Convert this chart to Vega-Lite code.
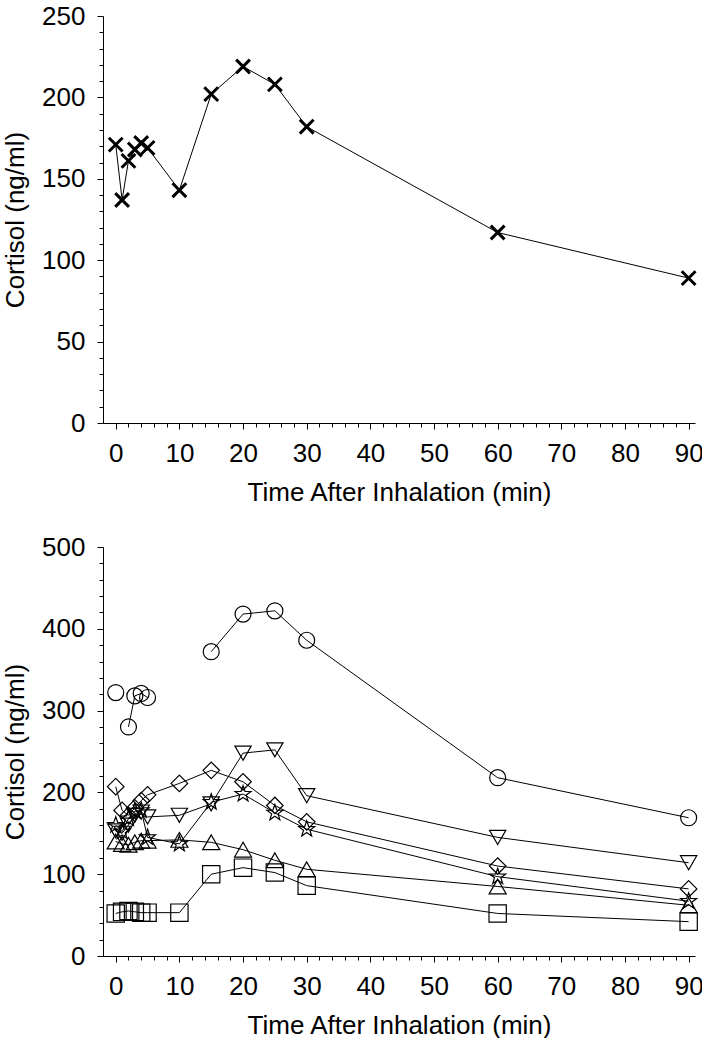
{
  "$schema": "https://vega.github.io/schema/vega-lite/v6.json",
  "padding": {"left": 2, "top": 3, "right": 0, "bottom": 0},
  "spacing": 29,
  "config": {
    "view": {"stroke": null},
    "font": "Liberation Sans",
    "axis": {
      "grid": false,
      "domainColor": "#000000",
      "domainWidth": 1,
      "tickColor": "#000000",
      "tickWidth": 1,
      "labelColor": "#000000",
      "titleColor": "#000000",
      "labelFontSize": 26,
      "titleFontSize": 26,
      "titleFontWeight": "normal",
      "labelOverlap": false,
      "labelFlush": false
    }
  },
  "datasets": {
    "top": [
      {"t": 0, "cortisol": 171},
      {"t": 1, "cortisol": 137},
      {"t": 2, "cortisol": 161},
      {"t": 3, "cortisol": 168},
      {"t": 4, "cortisol": 172},
      {"t": 5, "cortisol": 169},
      {"t": 10, "cortisol": 143},
      {"t": 15, "cortisol": 202},
      {"t": 20, "cortisol": 219},
      {"t": 25, "cortisol": 208},
      {"t": 30, "cortisol": 182},
      {"t": 60, "cortisol": 117},
      {"t": 90, "cortisol": 89}
    ],
    "bottom": [
      {"series": "circle", "segment": "circle-a", "t": 0, "cortisol": 322},
      {"series": "circle", "segment": "circle-b", "t": 2, "cortisol": 280},
      {"series": "circle", "segment": "circle-b", "t": 3, "cortisol": 318},
      {"series": "circle", "segment": "circle-b", "t": 4, "cortisol": 321},
      {"series": "circle", "segment": "circle-b", "t": 5, "cortisol": 316},
      {"series": "circle", "segment": "circle-c", "t": 15, "cortisol": 372},
      {"series": "circle", "segment": "circle-c", "t": 20, "cortisol": 418},
      {"series": "circle", "segment": "circle-c", "t": 25, "cortisol": 422},
      {"series": "circle", "segment": "circle-c", "t": 30, "cortisol": 386},
      {"series": "circle", "segment": "circle-c", "t": 60, "cortisol": 218},
      {"series": "circle", "segment": "circle-c", "t": 90, "cortisol": 169},

      {"series": "tdown", "segment": "tdown", "t": 0, "cortisol": 153},
      {"series": "tdown", "segment": "tdown", "t": 1, "cortisol": 150},
      {"series": "tdown", "segment": "tdown", "t": 2, "cortisol": 160},
      {"series": "tdown", "segment": "tdown", "t": 3, "cortisol": 172},
      {"series": "tdown", "segment": "tdown", "t": 4, "cortisol": 176},
      {"series": "tdown", "segment": "tdown", "t": 5, "cortisol": 170},
      {"series": "tdown", "segment": "tdown", "t": 10, "cortisol": 172},
      {"series": "tdown", "segment": "tdown", "t": 15, "cortisol": 186},
      {"series": "tdown", "segment": "tdown", "t": 20, "cortisol": 248},
      {"series": "tdown", "segment": "tdown", "t": 25, "cortisol": 252},
      {"series": "tdown", "segment": "tdown", "t": 30, "cortisol": 196},
      {"series": "tdown", "segment": "tdown", "t": 60, "cortisol": 145},
      {"series": "tdown", "segment": "tdown", "t": 90, "cortisol": 114},

      {"series": "diamond", "segment": "diamond", "t": 0, "cortisol": 207},
      {"series": "diamond", "segment": "diamond", "t": 1, "cortisol": 178},
      {"series": "diamond", "segment": "diamond", "t": 2, "cortisol": 172},
      {"series": "diamond", "segment": "diamond", "t": 3, "cortisol": 181},
      {"series": "diamond", "segment": "diamond", "t": 4, "cortisol": 190},
      {"series": "diamond", "segment": "diamond", "t": 5, "cortisol": 197},
      {"series": "diamond", "segment": "diamond", "t": 10, "cortisol": 211},
      {"series": "diamond", "segment": "diamond", "t": 15, "cortisol": 227},
      {"series": "diamond", "segment": "diamond", "t": 20, "cortisol": 213},
      {"series": "diamond", "segment": "diamond", "t": 25, "cortisol": 184},
      {"series": "diamond", "segment": "diamond", "t": 30, "cortisol": 164},
      {"series": "diamond", "segment": "diamond", "t": 60, "cortisol": 110},
      {"series": "diamond", "segment": "diamond", "t": 90, "cortisol": 82},

      {"series": "star", "segment": "star", "t": 0, "cortisol": 160},
      {"series": "star", "segment": "star", "t": 1, "cortisol": 152},
      {"series": "star", "segment": "star", "t": 2, "cortisol": 168},
      {"series": "star", "segment": "star", "t": 3, "cortisol": 177},
      {"series": "star", "segment": "star", "t": 4, "cortisol": 178},
      {"series": "star", "segment": "star", "t": 5, "cortisol": 145},
      {"series": "star", "segment": "star", "t": 10, "cortisol": 137},
      {"series": "star", "segment": "star", "t": 15, "cortisol": 188},
      {"series": "star", "segment": "star", "t": 20, "cortisol": 198},
      {"series": "star", "segment": "star", "t": 25, "cortisol": 175},
      {"series": "star", "segment": "star", "t": 30, "cortisol": 155},
      {"series": "star", "segment": "star", "t": 60, "cortisol": 97},
      {"series": "star", "segment": "star", "t": 90, "cortisol": 67},

      {"series": "tup", "segment": "tup", "t": 0, "cortisol": 140},
      {"series": "tup", "segment": "tup", "t": 1, "cortisol": 137},
      {"series": "tup", "segment": "tup", "t": 2, "cortisol": 136},
      {"series": "tup", "segment": "tup", "t": 3, "cortisol": 139},
      {"series": "tup", "segment": "tup", "t": 4, "cortisol": 141},
      {"series": "tup", "segment": "tup", "t": 5, "cortisol": 141},
      {"series": "tup", "segment": "tup", "t": 10, "cortisol": 142},
      {"series": "tup", "segment": "tup", "t": 15, "cortisol": 139},
      {"series": "tup", "segment": "tup", "t": 20, "cortisol": 130},
      {"series": "tup", "segment": "tup", "t": 25, "cortisol": 117},
      {"series": "tup", "segment": "tup", "t": 30, "cortisol": 106},
      {"series": "tup", "segment": "tup", "t": 60, "cortisol": 85},
      {"series": "tup", "segment": "tup", "t": 90, "cortisol": 62},

      {"series": "square", "segment": "square", "t": 0, "cortisol": 52},
      {"series": "square", "segment": "square", "t": 1, "cortisol": 54},
      {"series": "square", "segment": "square", "t": 2, "cortisol": 55},
      {"series": "square", "segment": "square", "t": 3, "cortisol": 54},
      {"series": "square", "segment": "square", "t": 4, "cortisol": 53},
      {"series": "square", "segment": "square", "t": 5, "cortisol": 53},
      {"series": "square", "segment": "square", "t": 10, "cortisol": 53},
      {"series": "square", "segment": "square", "t": 15, "cortisol": 100},
      {"series": "square", "segment": "square", "t": 20, "cortisol": 108},
      {"series": "square", "segment": "square", "t": 25, "cortisol": 102},
      {"series": "square", "segment": "square", "t": 30, "cortisol": 86},
      {"series": "square", "segment": "square", "t": 60, "cortisol": 52},
      {"series": "square", "segment": "square", "t": 90, "cortisol": 42}
    ]
  },
  "vconcat": [
    {
      "width": 592,
      "height": 407,
      "data": {"name": "top"},
      "encoding": {
        "x": {
          "field": "t", "type": "quantitative",
          "scale": {"domain": [-2, 91], "nice": false, "zero": false},
          "axis": {
            "title": "Time After Inhalation (min)",
            "values": [0,2,4,6,8,10,12,14,16,18,20,22,24,26,28,30,32,34,36,38,40,42,44,46,48,50,52,54,56,58,60,62,64,66,68,70,72,74,76,78,80,82,84,86,88,90],
            "labelExpr": "datum.value % 10 === 0 ? datum.label : ''",
            "tickSize": {"condition": {"test": "datum.value % 10 === 0", "value": 6}, "value": 4},
            "labelPadding": 11,
            "titlePadding": 13
          }
        },
        "y": {
          "field": "cortisol", "type": "quantitative",
          "scale": {"domain": [0, 250], "nice": false},
          "axis": {
            "title": "Cortisol (ng/ml)",
            "values": [0,10,20,30,40,50,60,70,80,90,100,110,120,130,140,150,160,170,180,190,200,210,220,230,240,250],
            "labelExpr": "datum.value % 50 === 0 ? datum.label : ''",
            "tickSize": {"condition": {"test": "datum.value % 50 === 0", "value": 6}, "value": 4},
            "labelPadding": 12,
            "titlePadding": 13
          }
        }
      },
      "layer": [
        {"mark": {"type": "line", "color": "#000000", "strokeWidth": 1}},
        {"mark": {"type": "point", "shape": "M-1,-1L1,1M-1,1L1,-1", "size": 190, "filled": false, "stroke": "#000000", "strokeWidth": 3, "opacity": 1}}
      ]
    },
    {
      "width": 592,
      "height": 409,
      "data": {"name": "bottom"},
      "encoding": {
        "x": {
          "field": "t", "type": "quantitative",
          "scale": {"domain": [-2, 91], "nice": false, "zero": false},
          "axis": {
            "title": "Time After Inhalation (min)",
            "values": [0,2,4,6,8,10,12,14,16,18,20,22,24,26,28,30,32,34,36,38,40,42,44,46,48,50,52,54,56,58,60,62,64,66,68,70,72,74,76,78,80,82,84,86,88,90],
            "labelExpr": "datum.value % 10 === 0 ? datum.label : ''",
            "tickSize": {"condition": {"test": "datum.value % 10 === 0", "value": 6}, "value": 4},
            "labelPadding": 11,
            "titlePadding": 13
          }
        },
        "y": {
          "field": "cortisol", "type": "quantitative",
          "scale": {"domain": [0, 500], "nice": false},
          "axis": {
            "title": "Cortisol (ng/ml)",
            "values": [0,20,40,60,80,100,120,140,160,180,200,220,240,260,280,300,320,340,360,380,400,420,440,460,480,500],
            "labelExpr": "datum.value % 100 === 0 ? datum.label : ''",
            "tickSize": {"condition": {"test": "datum.value % 100 === 0", "value": 6}, "value": 4},
            "labelPadding": 12,
            "titlePadding": 13
          }
        }
      },
      "layer": [
        {
          "mark": {"type": "line", "color": "#000000", "strokeWidth": 1},
          "encoding": {"detail": {"field": "segment", "type": "nominal"}}
        },
        {
          "mark": {"type": "point", "filled": false, "stroke": "#000000", "strokeWidth": 1.2, "opacity": 1},
          "encoding": {
            "shape": {
              "field": "series", "type": "nominal", "legend": null,
              "scale": {
                "domain": ["circle", "tdown", "diamond", "star", "tup", "square"],
                "range": ["circle", "triangle-down", "diamond", "M0,-1L0.235,-0.324L0.951,-0.309L0.38,0.124L0.588,0.809L0,0.4L-0.588,0.809L-0.38,0.124L-0.951,-0.309L-0.235,-0.324Z", "triangle-up", "square"]
              }
            },
            "size": {
              "field": "series", "type": "nominal", "legend": null,
              "scale": {
                "domain": ["circle", "tdown", "diamond", "star", "tup", "square"],
                "range": [256, 300, 330, 320, 300, 190]
              }
            }
          }
        }
      ]
    }
  ]
}
